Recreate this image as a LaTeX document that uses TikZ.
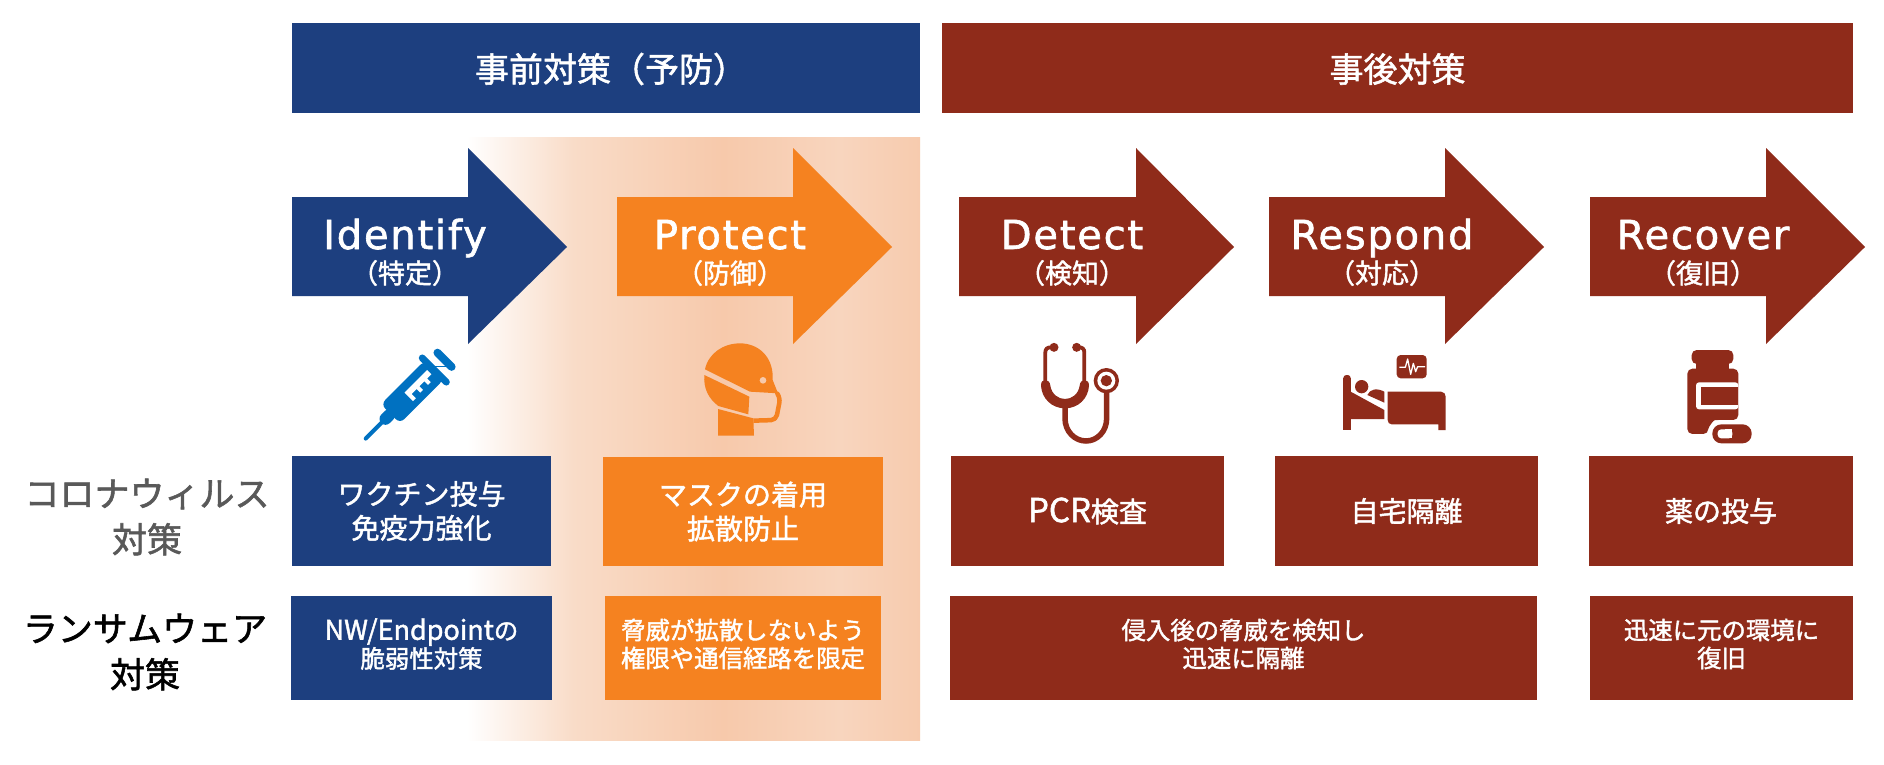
\documentclass[tikz,border=0pt]{standalone}
\usepackage{fontspec}
\setmainfont{DejaVu Sans}
\newfontfamily\cjk[FakeBold=1.6]{Noto Sans CJK JP}
\newfontfamily\lat[LetterSpace=4.5,FakeBold=1.6]{DejaVu Sans}
\definecolor{cblue}{HTML}{1D3F7F}
\definecolor{corange}{HTML}{F58220}
\definecolor{cred}{HTML}{8F2B1A}
\definecolor{cicon}{HTML}{0071C1}
\definecolor{cgrey}{HTML}{595959}
\definecolor{pa}{HTML}{F9DCC8}
\definecolor{pb}{HTML}{F7C9AB}
\definecolor{pc}{HTML}{F8D5BE}
\definecolor{pd}{HTML}{F7CBAE}
\pgfdeclarehorizontalshading{panelsh}{100bp}{color(0bp)=(white);color(25bp)=(white);color(36.7bp)=(pa);color(53.25bp)=(pb);color(66.15bp)=(pc);color(75bp)=(pd);color(100bp)=(pd)}
\tikzset{
  boxstyle/.style={inner sep=0pt,outer sep=0pt,align=center,text=white},
  hdtext/.style={font=\cjk\fontsize{34}{38}\selectfont},
  t28/.style={font=\cjk\fontsize{28}{34}\selectfont},
  t24/.style={font=\cjk\fontsize{24.4}{28}\selectfont},
  rowlabel/.style={inner sep=0pt,align=center,font=\cjk\fontsize{35}{46}\selectfont},
  arrowtitle/.style={inner sep=0pt,text=white,anchor=base,font=\lat\fontsize{40}{46}\selectfont},
  arrowsub/.style={inner sep=0pt,text=white,font=\cjk\fontsize{27}{30}\selectfont},
  icon/.style={shift={(#1)},x=0.3333pt,y=-0.3333pt}
}
% name x1 y1 x2 y2 colour style text-raise text
\newcommand\mybox[9]{\node[inner sep=0pt,outer sep=0pt,fill=#6,minimum width={(#4-#2)*1pt},minimum height={(#5-#3)*1pt}] (#1) at ({(#2+#4)/2},{(#3+#5)/2}) {};
  \node[boxstyle,#7] (#1t) at ([yshift=#8pt]#1.center) {#9};}
% left x, head x, tip x, colour
\newcommand\myarrow[4]{\fill[#4] (#1,197) -- (#2,197) -- (#2,148) -- (#3,247) -- (#2,344) -- (#2,296) -- (#1,296) -- cycle;}
\begin{document}
\begin{tikzpicture}[x=1pt,y=-1pt]
\useasboundingbox (0,0) rectangle (1884,764);
\fill[white] (0,0) rectangle (1884,764);
\shade[shading=panelsh] (467,137) rectangle (920,740);

\mybox{hdA}{292}{23}{920}{113}{cblue}{hdtext}{-1}{\hspace{10pt}事前対策（予防）}
\mybox{hdB}{942}{23}{1853}{113}{cred}{hdtext}{-1}{事後対策}

\myarrow{292}{468}{567}{cblue}
\myarrow{617}{793}{892}{corange}
\myarrow{959}{1136}{1234}{cred}
\myarrow{1269}{1445}{1544}{cred}
\myarrow{1590}{1766}{1865}{cred}

\node[arrowtitle] (tA) at (405,249) {Identify};
\node[arrowtitle] (tB) at (730,249) {Protect};
\node[arrowtitle] (tC) at (1072,249) {Detect};
\node[arrowtitle] (tD) at (1382,249) {Respond};
\node[arrowtitle] (tE) at (1703,249) {Recover};
\node[arrowsub] (sA) at (405,273) {（特定）};
\node[arrowsub] (sB) at (730,273) {（防御）};
\node[arrowsub] (sC) at (1072,273) {（検知）};
\node[arrowsub] (sD) at (1382,273) {（対応）};
\node[arrowsub] (sE) at (1703,273) {（復旧）};

% syringe
\begin{scope}[shift={(365,439.3)},x={(0.7071pt,0.7071pt)},y={(0.7071pt,-0.7071pt)}]
  \draw[cicon,line width=4pt,line cap=round] (1,0) -- (26,0);
  \draw[cicon,line width=12pt,line cap=round] (29,0) -- (34,0);
  \fill[cicon,rounded corners=6pt] (36,-13.5) -- (98,-13.5) -- (98,13.5) -- (36,13.5) -- cycle;
  \fill[cicon] (97,-6) rectangle (110,6);
  \draw[cicon,line width=7pt,line cap=round] (98,-17) -- (98,17);
  \draw[cicon,line width=8pt,line cap=round] (112.5,-10) -- (112.5,10);
  \fill[white] (61,-5) -- (93,-5) -- (93,1) -- (87,1) -- (87,6) -- (83,6) -- (83,1) -- (76,1) -- (76,6) -- (72,6) -- (72,1) -- (65,1) -- (65,7) -- (61,7) -- cycle;
\end{scope}

% masked head
\begin{scope}[icon={690,335}]
  \fill[corange] (45,103) .. controls (55,55) and (100,25) .. (150,25) .. controls (205,25) and (248,65) .. (248,125) -- (248,135) -- (264,175) -- (180,170) -- cycle;
  \fill[pb] (219,136) circle (10);
  \fill[corange] (43,120) -- (178,185) -- (175,238) -- (85,213) .. controls (55,190) and (40,160) .. (43,120) -- cycle;
  \fill[corange] (84,222) -- (190,250) -- (192,302) -- (84,302) -- cycle;
  \draw[corange,line width=4.5pt,line join=round,rounded corners=5pt] (262,176) -- (271,188) -- (258,255) -- (190,257);
\end{scope}

% stethoscope
\begin{scope}[icon={1030,335}]
  \draw[cred,line width=3.8pt] (46,150) -- (46,52) .. controls (46,42) and (52,37) .. (62,37);
  \draw[cred,line width=3.8pt] (163,150) -- (163,52) .. controls (163,42) and (157,37) .. (147,37);
  \fill[cred] (72,37) circle (13.5);
  \fill[cred] (140,37) circle (13.5);
  \fill[cred] (33,152) .. controls (33,140) and (38,135) .. (46,135) .. controls (55,135) and (60,142) .. (61,152) .. controls (65,178) and (85,192) .. (105,192) .. controls (125,192) and (145,178) .. (149,152) .. controls (150,142) and (155,135) .. (163,135) .. controls (172,135) and (177,142) .. (177,152) .. controls (175,190) and (145,220) .. (105,220) .. controls (65,220) and (35,190) .. (33,152) -- cycle;
  \draw[cred,line width=5.5pt] (105,215) -- (105,250) .. controls (105,290) and (135,318) .. (168,318) .. controls (201,318) and (230,290) .. (230,250) -- (230,170);
  \fill[cred] (229,137) circle (38);
  \fill[white] (229,137) circle (27);
  \fill[cred] (229,137) circle (17);
\end{scope}

% bed
\begin{scope}[icon={1335,345}]
  \fill[cred,rounded corners=4pt] (185,30) rectangle (275,100);
  \draw[white,line width=1.3pt,line join=round] (193,67) -- (211,67) -- (218,42) -- (227,88) -- (235,55) -- (242,80) -- (248,65) -- (270,65);
  \fill[cred,rounded corners=3pt] (25,110) -- (25,90) -- (47,90) -- (47,110) -- cycle;
  \fill[cred] (25,100) rectangle (47,255);
  \fill[cred] (47,140) -- (148,195) -- (148,222) -- (47,222) -- cycle;
  \fill[cred] (80,125) circle (20);
  \fill[cred] (97,150) .. controls (105,132) and (125,128) .. (148,140) -- (148,173) -- cycle;
  \fill[cred] (170,238) .. controls (162,238) and (158,232) .. (158,225) -- (158,140) -- (318,140) .. controls (327,140) and (332,147) .. (332,155) -- (332,255) -- (310,255) -- (310,238) -- cycle;
\end{scope}

% medicine bottle
\begin{scope}[icon={1670,340}]
  \fill[cred,rounded corners=5pt] (65,30) rectangle (190,72);
  \fill[cred] (78,65) rectangle (178,92);
  \fill[cred,rounded corners=5pt] (52,282) -- (52,86) -- (205,86) -- (205,240) -- (150,240) .. controls (130,240) and (115,262) .. (115,282) -- cycle;
  \fill[white,rounded corners=3pt] (78,127) -- (205,127) -- (205,208) -- (78,208) -- cycle;
  \fill[cred] (93,142) rectangle (205,195);
  \fill[white] (115,283) .. controls (115,262) and (130,240) .. (150,240) -- (205,240) -- (205,253) -- (127,253) -- (127,283) -- cycle;
  \fill[cred,rounded corners=9pt] (127,253) rectangle (245,310);
  \fill[white,rounded corners=3.5pt] (143,268) -- (187,268) -- (187,295) -- (143,295) -- cycle;
  \fill[white] (165,268) rectangle (187,295);
\end{scope}

\node[rowlabel,text=cgrey] (rA) at (147,517) {コロナウィルス\\対策};
\node[rowlabel,text=black] (rB) at (145,652) {ランサムウェア\\対策};

\mybox{a1}{292}{456}{551}{566}{cblue}{t28}{0}{ワクチン投与\\免疫力強化}
\mybox{b1}{603}{457}{883}{566}{corange}{t28}{0}{マスクの着用\\拡散防止}
\mybox{c1}{951}{456}{1224}{566}{cred}{t28}{0}{{\fontsize{33}{34}\selectfont PCR}検査}
\mybox{d1}{1275}{456}{1538}{566}{cred}{t28}{0}{自宅隔離}
\mybox{e1}{1589}{456}{1853}{566}{cred}{t28}{0}{薬の投与}
\mybox{a2}{291}{596}{552}{700}{cblue}{t24}{4}{{\fontsize{27}{28}\selectfont NW/Endpoint}の\\脆弱性対策}
\mybox{b2}{605}{596}{881}{700}{corange}{t24}{4}{脅威が拡散しないよう\\権限や通信経路を限定}
\mybox{c2}{950}{596}{1537}{700}{cred}{t24}{4}{侵入後の脅威を検知し\\迅速に隔離}
\mybox{e2}{1590}{596}{1853}{700}{cred}{t24}{4}{迅速に元の環境に\\復旧}
\end{tikzpicture}
\end{document}
